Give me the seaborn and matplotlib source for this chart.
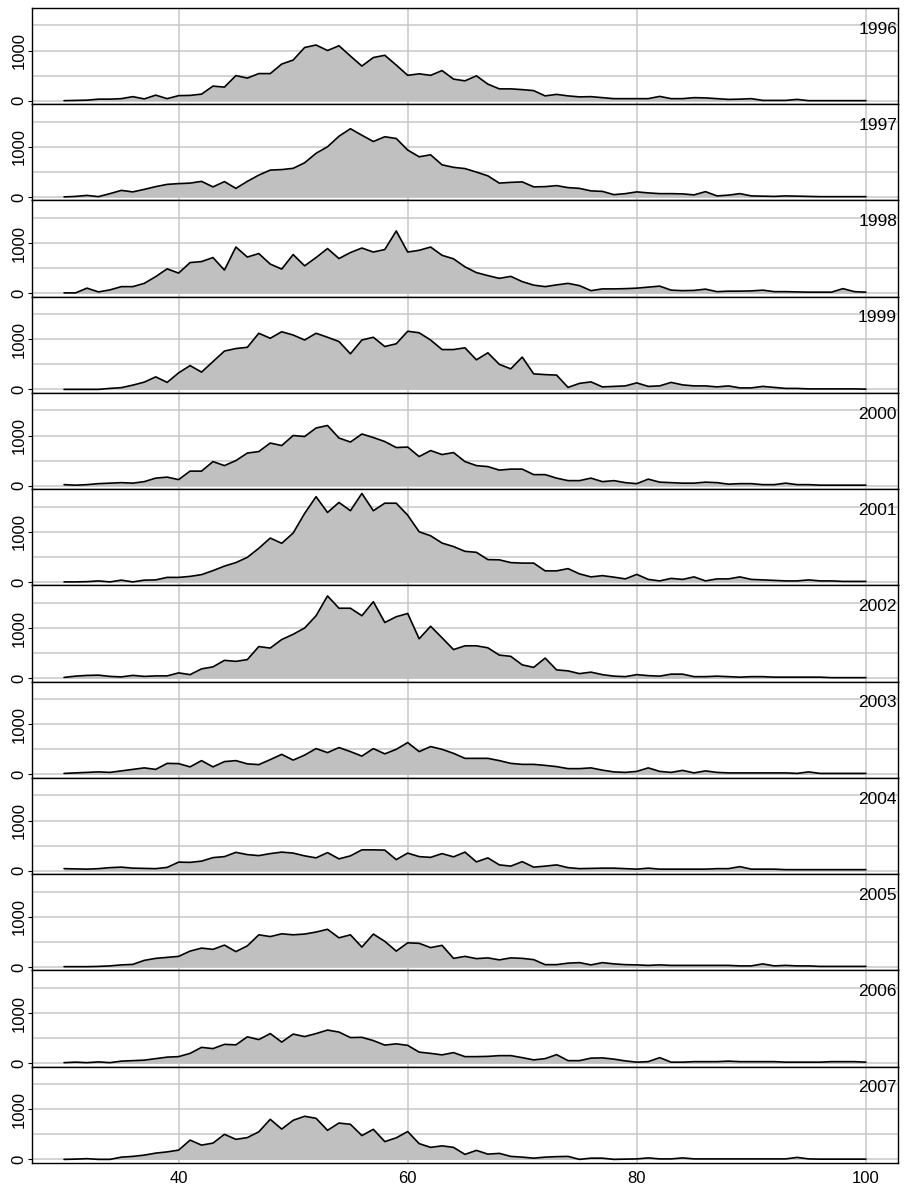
import numpy as np
import pandas as pd
import matplotlib
matplotlib.use("Agg")
import matplotlib.pyplot as plt
import seaborn as sns
from matplotlib.ticker import FixedLocator

# x positions 30..100, one count per integer
ages = list(range(30, 101))
years = [1996, 1997, 1998, 1999, 2000, 2001, 2002, 2003, 2004, 2005, 2006, 2007]

y1996 = [0, 5, 10, 30, 30, 40, 80, 35, 110, 40,
         100, 105, 130, 290, 270, 500, 450, 540, 540, 730,
         810, 1060, 1110, 1000, 1095, 890, 690, 860, 905, 710,
         505, 535, 505, 600, 430, 395, 495, 330, 235, 235,
         220, 200, 95, 125, 95, 75, 80, 60, 40, 40,
         40, 40, 85, 40, 40, 60, 55, 40, 25, 30,
         40, 5, 5, 5, 25, 0, 0, 0, 0, 0, 0]
y1997 = [0, 10, 30, 5, 65, 130, 100, 150, 205, 250,
         265, 275, 310, 200, 305, 170, 310, 435, 535, 545,
         570, 680, 870, 1000, 1210, 1360, 1230, 1105, 1200, 1165,
         935, 800, 840, 640, 590, 565, 495, 420, 275, 290,
         300, 200, 205, 225, 185, 170, 120, 110, 45, 65,
         100, 80, 65, 65, 60, 40, 105, 20, 35, 65,
         20, 15, 10, 20, 15, 10, 5, 5, 5, 5, 5]
y1998 = [5, 5, 100, 25, 65, 130, 130, 195, 330, 485,
         400, 610, 630, 710, 460, 920, 720, 790, 580, 480,
         770, 545, 710, 890, 690, 810, 900, 820, 870, 1240,
         820, 855, 920, 755, 685, 525, 410, 350, 295, 335,
         230, 160, 130, 165, 195, 150, 50, 85, 85, 90,
         100, 120, 140, 60, 50, 55, 80, 30, 40, 40,
         45, 60, 30, 30, 25, 20, 20, 20, 90, 30, 20]
y1999 = [0, 0, 0, 0, 20, 35, 85, 145, 250, 140,
         330, 475, 345, 555, 765, 815, 840, 1120, 1020, 1150,
         1085, 985, 1120, 1040, 955, 710, 985, 1040, 855, 910,
         1160, 1130, 985, 795, 795, 830, 590, 730, 500, 410,
         645, 310, 295, 285, 40, 120, 150, 50, 60, 70,
         130, 60, 70, 140, 90, 70, 70, 50, 70, 30,
         30, 60, 40, 20, 20, 10, 10, 10, 10, 10, 5]
y2000 = [20, 10, 20, 40, 50, 60, 50, 80, 150, 170,
         120, 290, 290, 480, 400, 500, 650, 680, 850, 800,
         1000, 980, 1150, 1200, 950, 870, 1030, 960, 880, 760,
         770, 580, 700, 620, 660, 480, 400, 380, 310, 330,
         330, 220, 220, 150, 100, 100, 150, 80, 100, 60,
         40, 130, 70, 60, 50, 50, 70, 60, 30, 40,
         40, 20, 20, 50, 20, 20, 10, 10, 10, 10, 10]
y2001 = [0, 0, 5, 20, 0, 35, 0, 35, 40, 90,
         90, 110, 145, 225, 315, 385, 490, 670, 875, 770,
         975, 1365, 1700, 1385, 1585, 1420, 1765, 1420, 1570, 1570,
         1330, 1000, 920, 775, 705, 610, 590, 445, 440, 385,
         375, 375, 220, 220, 265, 160, 100, 125, 95, 60,
         150, 50, 20, 70, 50, 100, 20, 60, 60, 100,
         50, 40, 30, 20, 20, 40, 20, 20, 10, 10, 10]
y2002 = [15, 40, 55, 60, 35, 25, 55, 35, 45, 45,
         105, 70, 185, 225, 355, 335, 370, 630, 600, 770,
         875, 1000, 1245, 1640, 1395, 1395, 1245, 1525, 1110, 1225,
         1290, 785, 1035, 805, 570, 645, 645, 605, 460, 435,
         265, 215, 400, 165, 145, 90, 120, 70, 40, 30,
         70, 50, 40, 80, 80, 30, 30, 40, 30, 20,
         30, 30, 20, 20, 20, 20, 20, 10, 10, 10, 10]
y2003 = [20, 30, 40, 50, 40, 70, 100, 130, 100, 220,
         215, 150, 275, 150, 255, 275, 210, 195, 295, 400,
         285, 385, 515, 435, 535, 455, 365, 515, 410, 500,
         635, 455, 555, 500, 420, 320, 320, 320, 275, 220,
         200, 200, 180, 155, 115, 115, 130, 85, 50, 40,
         60, 130, 60, 40, 80, 30, 70, 40, 30, 30,
         30, 30, 30, 30, 20, 50, 20, 20, 20, 20, 20]
y2004 = [40, 35, 30, 40, 60, 70, 50, 45, 40, 65,
         170, 165, 190, 260, 280, 365, 320, 300, 340, 370,
         350, 295, 255, 360, 235, 295, 415, 415, 410, 220,
         350, 280, 265, 340, 275, 370, 175, 255, 115, 90,
         180, 70, 90, 115, 60, 40, 45, 50, 50, 40,
         30, 50, 30, 30, 30, 30, 30, 40, 40, 80,
         30, 30, 30, 20, 20, 20, 20, 20, 20, 20, 20]
y2005 = [5, 5, 5, 10, 20, 40, 50, 130, 170, 190,
         210, 315, 375, 350, 435, 305, 420, 640, 605, 660,
         640, 655, 695, 750, 580, 640, 395, 655, 510, 315,
         480, 470, 385, 430, 170, 210, 165, 180, 140, 180,
         170, 145, 45, 45, 75, 85, 40, 85, 60, 45,
         40, 30, 40, 30, 30, 30, 30, 30, 30, 20,
         20, 60, 20, 30, 20, 20, 10, 10, 10, 10, 10]
y2006 = [10, 20, 10, 25, 10, 40, 50, 60, 90, 120,
         130, 195, 315, 290, 375, 365, 525, 470, 590, 420,
         580, 530, 590, 660, 620, 510, 515, 450, 360, 385,
         355, 220, 195, 165, 210, 130, 130, 135, 150, 150,
         110, 65, 90, 170, 50, 50, 100, 105, 80, 45,
         20, 30, 110, 20, 20, 30, 30, 30, 40, 30,
         30, 30, 30, 20, 20, 20, 20, 30, 30, 30, 20]
y2007 = [0, 5, 15, 0, 0, 45, 60, 85, 125, 150,
         185, 385, 285, 325, 500, 400, 435, 550, 800, 605,
         780, 860, 820, 580, 725, 700, 475, 600, 355, 430,
         555, 315, 240, 270, 240, 100, 180, 105, 120, 60,
         45, 25, 45, 55, 60, 0, 25, 25, 0, 5,
         10, 30, 10, 10, 30, 10, 10, 10, 10, 10,
         10, 10, 10, 10, 40, 10, 5, 5, 5, 5, 5]

series = [y1996, y1997, y1998, y1999, y2000, y2001,
          y2002, y2003, y2004, y2005, y2006, y2007]

df = pd.concat([pd.DataFrame({"year": yr, "x": ages, "count": vals})
                for yr, vals in zip(years, series)], ignore_index=True)

sns.set_theme(style="white")
plt.rcParams["font.family"] = ["Liberation Sans", "DejaVu Sans"]

fig, axes = plt.subplots(len(years), 1, figsize=(9.07, 11.89), dpi=100, sharex=True)
fig.subplots_adjust(left=0.0353, right=0.990, top=0.9933, bottom=0.0219, hspace=0)

for ax, yr in zip(axes, years):
    d = df[df.year == yr]
    ax.fill_between(d["x"], 0, d["count"], color="#c0c0c0", lw=0, zorder=2)
    sns.lineplot(data=d, x="x", y="count", ax=ax, color="black", lw=1.2, zorder=3)
    ax.set_xlim(27.2, 102.8)
    ax.set_ylim(-71, 1849)
    ax.yaxis.set_major_locator(FixedLocator([0, 1000]))
    ax.yaxis.set_minor_locator(FixedLocator([500, 1500]))
    ax.xaxis.set_major_locator(FixedLocator([40, 60, 80, 100]))
    ax.grid(True, which="both", axis="y", color="#c8c8c8", lw=1.1, zorder=0)
    ax.grid(True, which="major", axis="x", color="#c8c8c8", lw=1.1, zorder=0)
    ax.set_axisbelow(True)
    ax.set_xlabel("")
    ax.set_ylabel("")
    for s in ax.spines.values():
        s.set_color("black")
        s.set_linewidth(1.0)
    ax.tick_params(axis="y", which="major", left=True, length=3, width=0.8, pad=1,
                   labelsize=12, labelrotation=90, colors="black")
    ax.tick_params(axis="y", which="minor", left=False, length=0)
    for lab in ax.get_yticklabels():
        lab.set_verticalalignment("center")
    ax.tick_params(axis="x", length=3, width=0.8, pad=3, labelsize=12, colors="black")
    ax.text(0.999, 0.78, str(yr), transform=ax.transAxes, ha="right", va="center",
            fontsize=12.5, color="black")

fig.savefig("out.png", dpi=100)
